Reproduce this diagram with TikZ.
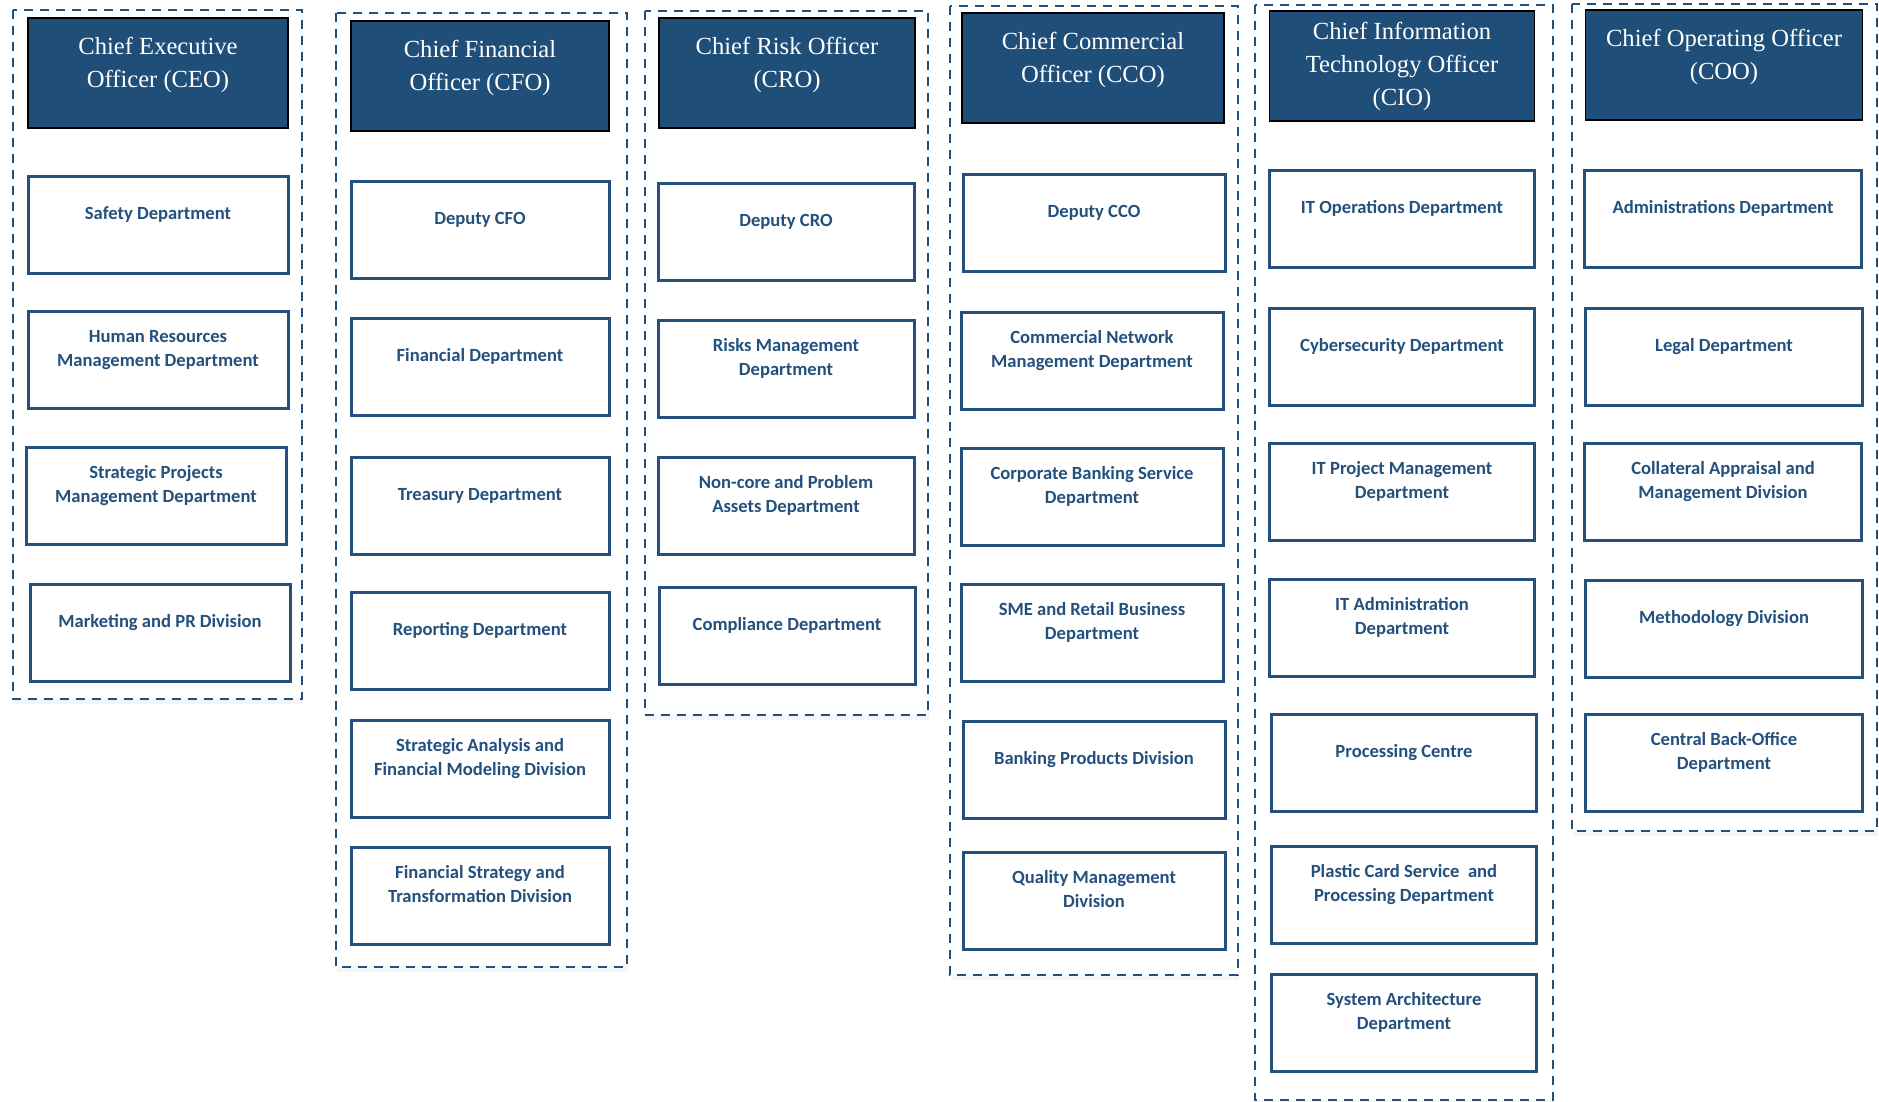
\documentclass[tikz,border=0pt]{standalone}
\usepackage{fontspec}
\usepackage{tikz}
\usetikzlibrary{shadows}
\setmainfont{Liberation Serif}
\newfontfamily\calib{Carlito}
\definecolor{navy}{RGB}{31,78,121}
\definecolor{boxblue}{RGB}{35,80,125}
\NewDocumentCommand{\unitname}{m}{\begin{tabular}{@{}c@{}}#1\\[10.5pt]\end{tabular}}
\NewDocumentCommand{\chiefname}{O{8.4pt}m}{\begin{tabular}{@{}c@{}}#2\\[#1]\end{tabular}}

\begin{document}
\begin{tikzpicture}[x=0.5pt, y=-0.5pt,
    group/.style={draw=boxblue, line width=1.1pt, dash pattern=on 4.5pt off 3.5pt,
                  fill=white, drop shadow={shadow xshift=0.6pt, shadow yshift=-2.5pt, opacity=0.08}},
    chief/.style={draw=black, line width=0.7pt, fill=navy, text=white, inner sep=0pt,
                  minimum height=55pt, font=\fontsize{12.3pt}{16.5pt}\selectfont},
    unit/.style={draw=boxblue, line width=1.5pt, fill=white, text=boxblue, inner sep=0pt,
                 minimum height=48.5pt, font=\calib\bfseries\fontsize{9.3pt}{12pt}\selectfont}]
    \useasboundingbox (0,0) rectangle (1879,1102);

    \draw[group] (13,10) rectangle (302,699);
    \draw[group] (336,13) rectangle (627,967);
    \draw[group] (645,11) rectangle (928,715);
    \draw[group] (950,6) rectangle (1238,975);
    \draw[group] (1255,5) rectangle (1553,1100);
    \draw[group] (1572,4) rectangle (1877,831);

    \begin{scope}[every node/.append style={minimum width=130pt}]
        \node[chief] (ceo) at (158,73) {\chiefname{Chief Executive\\Officer (CEO)}};
        \node[unit] (safety) at (158,225) {\unitname{Safety Department}};
        \node[unit] (hrm) at (158,360) {\unitname{Human Resources\\Management Department}};
        \node[unit] (spm) at (156,496) {\unitname{Strategic Projects\\Management Department}};
        \node[unit] (mpr) at (160,633) {\unitname{Marketing and PR Division}};
    \end{scope}

    \begin{scope}[every node/.append style={minimum width=129pt}]
        \node[chief] (cfo) at (480,76) {\chiefname{Chief Financial\\Officer (CFO)}};
        \node[unit] (dcfo) at (480,230) {\unitname{Deputy CFO}};
        \node[unit] (fin) at (480,367) {\unitname{Financial Department}};
        \node[unit] (treasury) at (480,506) {\unitname{Treasury Department}};
        \node[unit] (report) at (480,641) {\unitname{Reporting Department}};
        \node[unit] (safm) at (480,769) {\unitname{Strategic Analysis and\\Financial Modeling Division}};
        \node[unit] (fstd) at (480,896) {\unitname{Financial Strategy and\\Transformation Division}};
    \end{scope}

    \begin{scope}[every node/.append style={minimum width=128pt}]
        \node[chief] (cro) at (787,73) {\chiefname{Chief Risk Officer\\(CRO)}};
        \node[unit] (dcro) at (786,232) {\unitname{Deputy CRO}};
        \node[unit] (risk) at (786,369) {\unitname{Risks Management\\Department}};
        \node[unit] (noncore) at (786,506) {\unitname{Non-core and Problem\\Assets Department}};
        \node[unit] (compl) at (787,636) {\unitname{Compliance Department}};
    \end{scope}

    \begin{scope}[every node/.append style={minimum width=131pt}]
        \node[chief] (cco) at (1093,68) {\chiefname{Chief Commercial\\Officer (CCO)}};
        \node[unit] (dcco) at (1094,223) {\unitname{Deputy CCO}};
        \node[unit] (cnm) at (1092,361) {\unitname{Commercial Network\\Management Department}};
        \node[unit] (cbs) at (1092,497) {\unitname{Corporate Banking Service\\Department}};
        \node[unit] (sme) at (1092,633) {\unitname{SME and Retail Business\\Department}};
        \node[unit] (bpd) at (1094,770) {\unitname{Banking Products Division}};
        \node[unit] (qmd) at (1094,901) {\unitname{Quality Management\\Division}};
    \end{scope}

    \begin{scope}[every node/.append style={minimum width=132.5pt}]
        \node[chief] (cio) at (1402,66) {\chiefname[0pt]{Chief Information\\Technology Officer\\(CIO)}};
        \node[unit] (itops) at (1402,219) {\unitname{IT Operations Department}};
        \node[unit] (cyber) at (1402,357) {\unitname{Cybersecurity Department}};
        \node[unit] (itpm) at (1402,492) {\unitname{IT Project Management\\Department}};
        \node[unit] (itadm) at (1402,628) {\unitname{IT Administration\\Department}};
        \node[unit] (proc) at (1404,763) {\unitname{Processing Centre}};
        \node[unit] (card) at (1404,895) {\unitname{Plastic Card Service~ and\\Processing Department}};
        \node[unit] (sysarch) at (1404,1023) {\unitname{System Architecture\\Department}};
    \end{scope}

    \begin{scope}[every node/.append style={minimum width=138.5pt}]
        \node[chief] (coo) at (1724,65) {\chiefname{Chief Operating Officer\\(COO)}};
        \node[unit] (admin) at (1723,219) {\unitname{Administrations Department}};
        \node[unit] (legal) at (1724,357) {\unitname{Legal Department}};
        \node[unit] (collat) at (1723,492) {\unitname{Collateral Appraisal and\\Management Division}};
        \node[unit] (method) at (1724,629) {\unitname{Methodology Division}};
        \node[unit] (backoff) at (1724,763) {\unitname{Central Back-Office\\Department}};
    \end{scope}
\end{tikzpicture}
\end{document}
